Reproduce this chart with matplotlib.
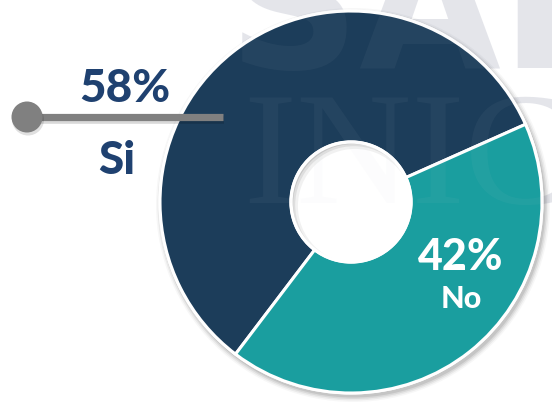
import matplotlib.pyplot as plt
from matplotlib.patches import Circle

# data
labels = ['Si', 'No']
shares = [58, 42]
colors = ['#1c3d5a', '#1a9e9f']
label_colors = ['#1f4170', 'white']

fig = plt.figure(figsize=(5.52, 4.03), dpi=100)
ax = fig.add_axes([0, 0, 1, 1])

cx, cy = 351, 202
r_out, r_in = 191, 60

# faint watermark in the background
wm_color = '#e6e7ec'
ax.text(228, 68, 'SAL', fontsize=132, fontweight='bold', family='DejaVu Sans',
        color=wm_color, ha='left', va='baseline', zorder=0)
ax.text(243, 203, 'INIC', fontsize=115, family='Liberation Serif',
        color=wm_color, ha='left', va='baseline', zorder=0)

# soft shadow round the ring
for dr, a in [(6, 0.03), (4.5, 0.05), (3, 0.07), (1.5, 0.09)]:
    ax.add_patch(Circle((cx + 2, cy + 3), r_out + dr, color='black', alpha=a,
                        lw=0, zorder=1))
ax.add_patch(Circle((cx, cy), r_out + 1.5, color='white', lw=0, zorder=1.5))

wedges, _ = ax.pie(shares, colors=colors, center=(cx, cy), radius=r_out,
                   startangle=-24, counterclock=False,
                   wedgeprops=dict(width=r_out - r_in, edgecolor='white',
                                   linewidth=2.2))
for w in wedges:
    w.set_zorder(2)

# hole: white rim plus inner shadow
hole = Circle((cx, cy), r_in, fc='none', ec='none')
ax.add_patch(hole)
for off, lw, a in [(4, 10, 0.08), (3, 6, 0.12), (2, 3, 0.18)]:
    sh = Circle((cx + off, cy + off), r_in + off, fc='none', ec='#555555',
                lw=lw, alpha=a, zorder=2.5)
    ax.add_patch(sh)
    sh.set_clip_path(hole)
ax.add_patch(Circle((cx, cy), r_in, fc='none', ec='white', lw=2.4, zorder=3))

# watermark showing lightly through the donut
ax.text(228, 68, 'SAL', fontsize=132, fontweight='bold', family='DejaVu Sans',
        color='#c9cdd8', alpha=0.05, ha='left', va='baseline', zorder=3.5)
ax.text(243, 203, 'INIC', fontsize=115, family='Liberation Serif',
        color='#c9cdd8', alpha=0.05, ha='left', va='baseline', zorder=3.5)

# leader line with dot for "Si"
ax.plot([29, 224], [119.5, 119.5], color='black', alpha=0.15, lw=5.5,
        solid_capstyle='butt', zorder=4)
ax.plot([27, 223], [117, 117], color='#808080', lw=5.2,
        solid_capstyle='butt', zorder=5)
ax.add_patch(Circle((28, 119.5), 16, color='black', alpha=0.12, lw=0, zorder=5))
ax.add_patch(Circle((27, 117), 15.5, color='#808080', lw=0, zorder=6))

# labels
font = dict(family='Lato', fontweight='black', ha='center', va='center', zorder=7)
ax.text(125, 89, f'{shares[0]}%', fontsize=33, color=label_colors[0], **font)
ax.text(117, 161, labels[0], fontsize=33, color=label_colors[0], **font)
ax.text(461, 257, f'{shares[1]}%', fontsize=31, color=label_colors[1], **font)
ax.text(461, 299, labels[1], fontsize=22, color=label_colors[1], **font)

ax.set_xlim(0, 552)
ax.set_ylim(403, 0)
ax.set_aspect('equal')
ax.axis('off')

fig.savefig('out.png', dpi=100, facecolor='white')
